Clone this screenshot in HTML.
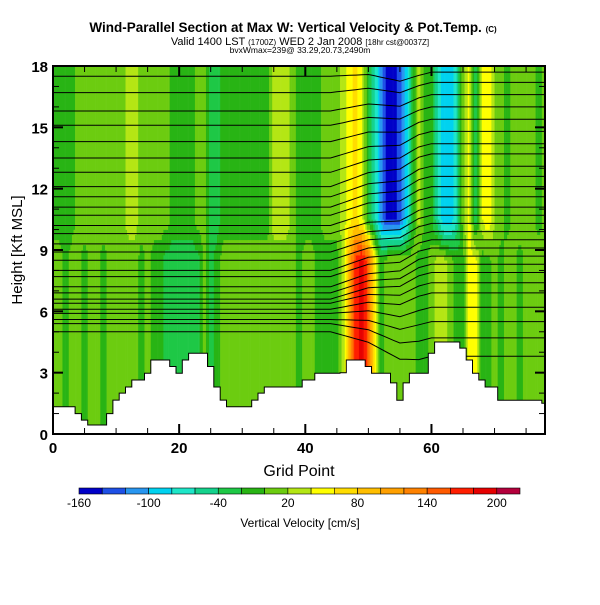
<!DOCTYPE html>
<html><head><meta charset="utf-8"><style>
body{margin:0;background:#fff;}
svg text{font-family:"Liberation Sans",sans-serif;}
</style></head><body>
<svg id="chart" width="600" height="600" viewBox="0 0 600 600" xmlns="http://www.w3.org/2000/svg">
<rect width="600" height="600" fill="#fff"/>
<g id="title">
<text x="293" y="32" text-anchor="middle" font-size="13.5" font-weight="bold">Wind-Parallel Section at Max W: Vertical Velocity &amp; Pot.Temp. <tspan font-size="8">(C)</tspan></text>
<text x="300" y="45" text-anchor="middle" font-size="11">Valid 1400 LST <tspan font-size="8">(1700Z)</tspan> WED 2 Jan 2008 <tspan font-size="8">[18hr cst@0037Z]</tspan></text>
<text x="300" y="53" text-anchor="middle" font-size="8.5">bvxWmax=239@ 33.29,20.73,2490m</text>
</g>
<g id="field"></g>
<g id="contours"></g>
<g id="terrain"></g>
<g id="axes"></g>
<g id="cbar"></g>
</svg>
<script>
const gridPoints = 79;
const wHigh = [-10,-10,-10,-10, 10,10,10,10,10,10,10,10, 30,30, 10,10,10,10,10, -10,-10,-10,-10, 10,10, -30,-30,-10,-10, -10,-10,-10,-10,-10,-10, 30,30,30,10, -10,-10,-10,-10,10, 10,10,30, 50,70,40, -20,-60, -110,-150,-150,-130,-90, -20,30, -10,-10, -60,-100,-100,-60, 10, 50,-40, 40,60,20, 10,-10,10,10, 10,10,-10,10];
const wLow = [10,10,-10,10, 10,-10,10,10,-10,10,10,10, 10,10,-10,10,-10,-10,-30, -30,-30,-30,-30,-30,10, -30,-10,10,10, 10,10,10,10,10,10, 10,10,10,10, -10,10,10,-10,-10, -10,-10,30, 100,170,190,150,60, -10,10,10,10,10, 10,-10,-10,10, 30,30,10, -10,-10, 50,50, -10,-10,10,-10,10,10,-10, 10,10,10,10];
const terrainKm = [1.33,1.33,1.33,1.33,1.0,0.68,0.44,0.44,0.44,1.0,1.66,2.0,2.3,2.64,2.64,2.97,3.62,3.62,3.62,3.3,2.97,3.62,3.95,3.95,3.95,3.3,2.3,1.66,1.33,1.33,1.33,1.33,1.66,2.0,2.3,2.3,2.3,2.3,2.3,2.3,2.64,2.64,2.97,2.97,2.97,2.97,3.0,3.62,3.62,3.62,3.3,2.97,2.97,2.97,2.5,1.65,2.5,2.97,2.97,2.97,3.95,4.5,4.5,4.5,4.5,4.2,3.62,2.97,2.64,2.3,2.3,1.65,1.65,1.65,1.65,1.65,1.65,1.65,1.5];
const thetaLeftKm = [17.5,16.7,15.8,15.1,14.3,13.5,12.8,12.1,11.6,11.1,10.7,10.2,9.8,9.3,8.9,8.5,8.0,7.7,7.2,6.9,6.6,6.4,6.1,5.9,5.6,5.4,5.0];
const thetaRightKm = [17.7,17.2,16.6,16.0,15.4,14.8,14.2,13.7,13.1,12.6,12.1,11.6,11.1,10.7,10.3,9.9,9.5,9.1,8.7,8.3,7.9,7.4,6.9,6.2,5.5,4.7,3.8];
const cbarTicks = [-160,-100,-40,20,80,140,200];
const cbarColors = ["#0000c8","#1e50e6","#2896f0","#00d2f0","#1ee6c8","#14d28c","#1ec846","#28b414","#6ccc10","#b4e614","#ffff00","#ffdc00","#ffbe00","#ffa000","#ff8200","#ff5a00","#ff1e00","#e60000","#b4003c"];

const NS="http://www.w3.org/2000/svg";
const X0=53,X1=545,Y0=434,Y1=66;
const xS=g=>X0+(g)*(X1-X0)/78;
const yS=z=>Y0-(z)*(Y0-Y1)/18;
function mk(tag,attrs,parent){const e=document.createElementNS(NS,tag);for(const k in attrs)e.setAttribute(k,attrs[k]);parent.appendChild(e);return e;}
function colorFor(w){let i=Math.floor((w+160)/20);i=Math.max(0,Math.min(cbarColors.length-1,i));return cbarColors[i];}
function lerpArr(a,g){const i=Math.max(0,Math.min(a.length-1,Math.floor(g)));const j=Math.min(a.length-1,i+1);const f=Math.max(0,Math.min(1,g-i));return a[i]*(1-f)+a[j]*f;}

// field
const field=document.getElementById('field');
const dz=0.25, dg=0.25;
for(let g=-0.5;g<78.5;g+=dg){
  const gm=g+dg/2;
  const xa=Math.max(X0,xS(g)), xb=Math.min(X1,xS(g+dg));
  if(xb<=xa) continue;
  const lo=lerpArr(wLow,gm), hi=lerpArr(wHigh,gm);
  let z=0;
  while(z<18){
    const zm=z+dz/2;
    let t=(zm-8.5)/2; t=Math.max(0,Math.min(1,t));
    const c=colorFor(lo*(1-t)+hi*t);
    let z2=z+dz;
    while(z2<18){const zm2=z2+dz/2;let t2=Math.max(0,Math.min(1,(zm2-8.5)/2));if(colorFor(lo*(1-t2)+hi*t2)!==c)break;z2+=dz;}
    const r=mk('rect',{x:xa.toFixed(2),y:yS(z2).toFixed(2),width:(xb-xa+0.3).toFixed(2),height:(yS(z)-yS(z2)+0.3).toFixed(2),fill:c},field);
    
    
    z=z2;
  }
}

// contours
const cg=document.getElementById('contours');
for(let i=0;i<thetaLeftKm.length;i++){
  let d='';
  for(let g=0;g<gridPoints;g++){
    let b=(g-44)/14; b=Math.max(0,Math.min(1,b));
    let z=thetaLeftKm[i]*(1-b)+thetaRightKm[i]*b;
    const dip=Math.max(0,1-Math.abs(g-55)/5)*0.4;
    z-=dip;
    d+=(g?'L':'M')+xS(g).toFixed(1)+','+yS(z).toFixed(1);
  }
  const p=mk('path',{d:d,fill:'none',stroke:'#000','stroke-width':1},cg);
  
  
}

// terrain
const tg=document.getElementById('terrain');
let td='M'+X0+','+Y0;
for(let g=0;g<gridPoints;g++){
  const xa=Math.max(X0,xS(g-0.5)), xb=Math.min(X1,xS(g+0.5));
  td+='L'+xa.toFixed(1)+','+yS(terrainKm[g]).toFixed(1)+'L'+xb.toFixed(1)+','+yS(terrainKm[g]).toFixed(1);
}
td+='L'+X1+','+Y0+'Z';
const tp=mk('path',{d:td,fill:'#fff',stroke:'#000','stroke-width':1},tg);



// axes
const ax=document.getElementById('axes');
const fr=mk('rect',{x:X0,y:Y1,width:X1-X0,height:Y0-Y1,fill:'none',stroke:'#000','stroke-width':2},ax);


for(let g=0;g<=75;g+=5){
  const L=g%20===0?10:6;
  mk('line',{x1:xS(g),x2:xS(g),y1:Y0,y2:Y0-L,stroke:'#000','stroke-width':g%20===0?2:1},ax);
  mk('line',{x1:xS(g),x2:xS(g),y1:Y1,y2:Y1+L,stroke:'#000','stroke-width':g%20===0?2:1},ax);
}
for(const g of [0,20,40,60]){
  const t=mk('text',{x:xS(g),y:453,'text-anchor':'middle','font-size':15,'font-weight':'bold'},ax);
  t.textContent=g;
  
  
}
for(let z=0;z<=18;z++){
  const L=z%3===0?10:6;
  mk('line',{x1:X0,x2:X0+L,y1:yS(z),y2:yS(z),stroke:'#000','stroke-width':z%3===0?2:1},ax);
  mk('line',{x1:X1,x2:X1-L,y1:yS(z),y2:yS(z),stroke:'#000','stroke-width':z%3===0?2:1},ax);
  if(z%3===0){
    const t=mk('text',{x:48,y:yS(z)+6,'text-anchor':'end','font-size':15,'font-weight':'bold'},ax);
    t.textContent=z;
    
    
  }
}
const xt=mk('text',{x:299,y:476,'text-anchor':'middle','font-size':16},ax);
xt.textContent='Grid Point';


const yt=mk('text',{x:0,y:0,'text-anchor':'middle','font-size':15,transform:'translate(22,250) rotate(-90)'},ax);
yt.textContent='Height [Kft MSL]';



// colorbar
const cb=document.getElementById('cbar');
const CB0=79,CB1=520,segW=(CB1-CB0)/cbarColors.length;
cbarColors.forEach((c,i)=>{
  const r=mk('rect',{x:CB0+i*segW,y:488,width:segW,height:6,fill:c,stroke:'#000','stroke-width':0.6},cb);
  
  
});
cbarTicks.forEach(v=>{
  const t=mk('text',{x:CB0+(v+160)/20*segW,y:507,'text-anchor':'middle','font-size':12},cb);
  t.textContent=v;
  
  
});
const ct=mk('text',{x:300,y:527,'text-anchor':'middle','font-size':12},cb);
ct.textContent='Vertical Velocity [cm/s]';


</script>
</body></html>
